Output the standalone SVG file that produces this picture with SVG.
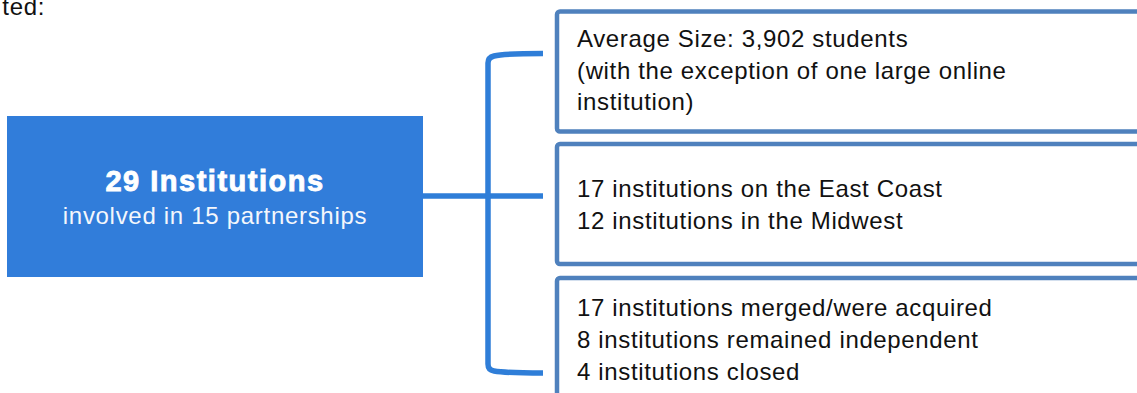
<svg xmlns="http://www.w3.org/2000/svg" width="1137" height="393" viewBox="0 0 1137 393">
  <style>
    .body { font-family: "Liberation Sans", Arial, sans-serif; font-size: 24px; letter-spacing: 0.65px; fill: #111111; }
    .panel { fill: #ffffff; stroke: #4f81bd; stroke-width: 4.5; }
    .link { fill: none; stroke: #2f7ed8; stroke-width: 5.5; stroke-linecap: butt; stroke-linejoin: round; }
    .title { font-family: "Liberation Sans", Arial, sans-serif; font-weight: bold; font-size: 29px; letter-spacing: 1.5px; fill: #ffffff; stroke: #ffffff; stroke-width: 0.9; }
    .sub { font-family: "Liberation Sans", Arial, sans-serif; font-size: 24px; letter-spacing: 0.7px; fill: #f4f7fc; }
  </style>

  <rect width="1137" height="393" fill="#ffffff"/>

  <!-- tail of the preceding sentence, clipped at the left edge -->
  <text class="body" x="45" y="15" text-anchor="end">ted:</text>

  <!-- connectors: stem from the summary box and the bracket fanning out to the panels -->
  <g id="connectors">
    <line class="link" x1="423" y1="196" x2="543" y2="196"/>
    <path class="link" d="M543,53.5 C520,53.5 500,54.5 494,56 Q488,57.5 488,63 L488,364 Q488,370 494,371 C500,372 520,373 543,373"/>
  </g>

  <!-- summary box -->
  <g id="summary">
    <rect x="7" y="116" width="416" height="161" fill="#317dda"/>
    <text class="title" x="215" y="191" text-anchor="middle">29 Institutions</text>
    <text class="sub" x="215" y="224" text-anchor="middle">involved in 15 partnerships</text>
  </g>

  <!-- size panel -->
  <g id="size">
    <rect class="panel" x="557" y="11.5" width="600" height="120" rx="3"/>
    <text class="body" x="577" y="47">Average Size: 3,902 students</text>
    <text class="body" x="577" y="78.5">(with the exception of one large online</text>
    <text class="body" x="577" y="110">institution)</text>
  </g>

  <!-- region panel -->
  <g id="region">
    <rect class="panel" x="557" y="144" width="600" height="120" rx="3"/>
    <text class="body" x="577" y="197">17 institutions on the East Coast</text>
    <text class="body" x="577" y="229">12 institutions in the Midwest</text>
  </g>

  <!-- outcome panel -->
  <g id="outcome">
    <rect class="panel" x="557" y="278" width="600" height="140" rx="3"/>
    <text class="body" x="577" y="316">17 institutions merged/were acquired</text>
    <text class="body" x="577" y="348">8 institutions remained independent</text>
    <text class="body" x="577" y="380">4 institutions closed</text>
  </g>
</svg>
